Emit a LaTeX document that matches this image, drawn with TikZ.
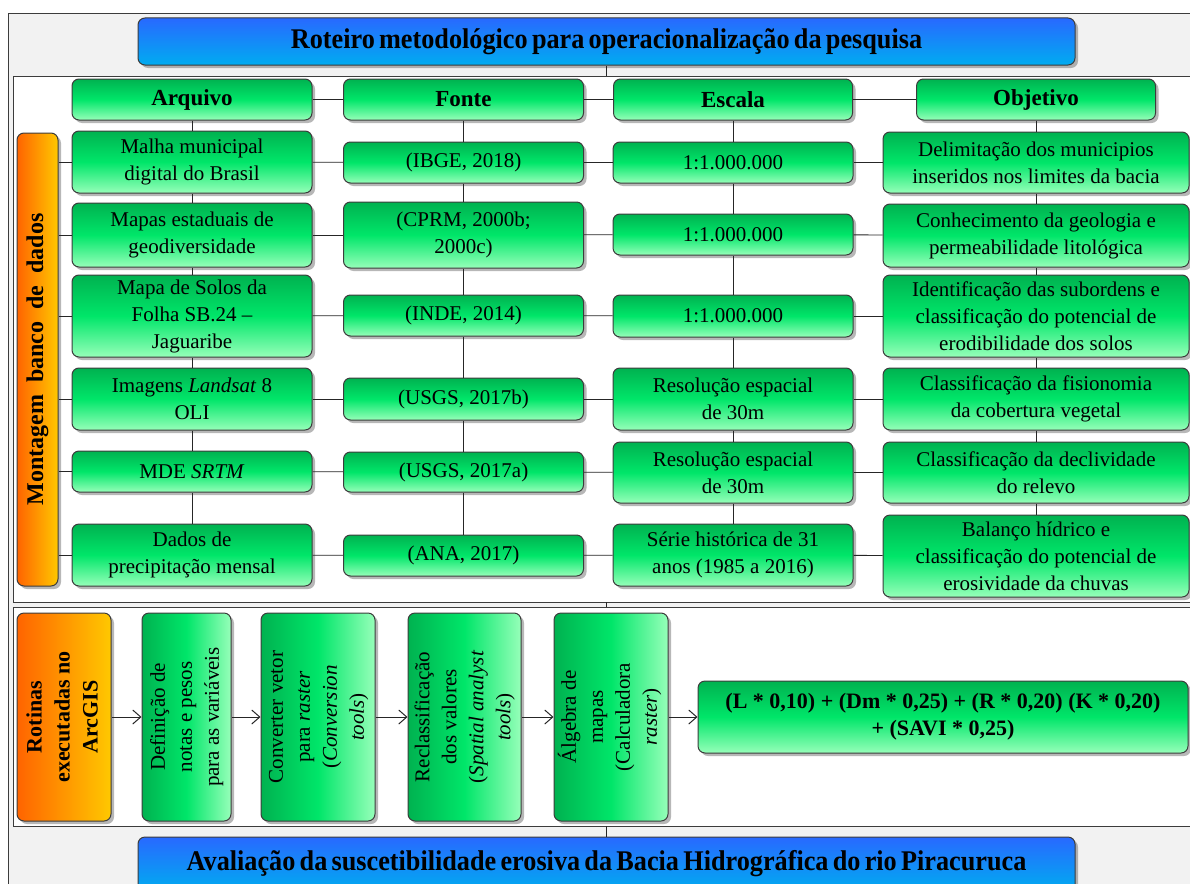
\documentclass[tikz,border=0pt]{standalone}
\usepackage{fontspec}
\setmainfont{Liberation Serif}
\newfontfamily\condfont{Liberation Serif}[FakeStretch=0.92]
\usetikzlibrary{shadows,arrows.meta}
\definecolor{gtop}{RGB}{0,178,80}
\definecolor{gmid}{RGB}{0,230,105}
\definecolor{gbot}{RGB}{150,255,185}
\definecolor{btop}{RGB}{40,105,255}
\definecolor{bbot}{RGB}{0,172,240}
\definecolor{otop}{RGB}{255,100,0}
\definecolor{obot}{RGB}{255,200,0}
\definecolor{framebg}{RGB}{242,242,242}
\definecolor{edge}{RGB}{60,60,60}
\newcommand\rtxt[1]{\rotatebox{90}{\begin{tabular}{@{}c@{}}#1\end{tabular}}}
\newcommand\ttlfont{\condfont\fontsize{28.5}{32}\selectfont\bfseries\spaceskip=0.15em plus 0.05em\relax}
\begin{document}
\begin{tikzpicture}[x=1pt,y=-1pt,
  box/.style={draw=edge, line width=1pt, rounded corners=7pt, inner sep=0pt, align=center,
     drop shadow={shadow xshift=3pt,shadow yshift=-3pt,opacity=0.35,fill=black!80},
     font=\fontsize{21}{27}\selectfont},
  gbox/.style={box, top color=gtop, bottom color=gbot, middle color=gmid},
  hbox/.style={gbox, font=\fontsize{23}{27}\selectfont\bfseries},
  vgbox/.style={box, left color=gtop, right color=gbot, middle color=gmid},
  obox/.style={box, left color=otop, right color=obot, font=\fontsize{23}{28}\selectfont\bfseries},
  bbox/.style={box, top color=btop, bottom color=bbot, font=\ttlfont},
  sz/.style 2 args={minimum width=#1pt, minimum height=#2pt},
  link/.style={draw=black!85, line width=0.9pt},
  arr/.style={link, -{Straight Barb[length=8pt,width=14pt,line width=1pt]}}
]
\useasboundingbox (0,0) rectangle (1190,883);
\clip (0,0) rectangle (1190,883);
\fill[white] (0,0) rectangle (1190,883);
\draw[fill=framebg, draw=edge, line width=1pt] (8,14) rectangle (1210,900);
\draw[fill=white, draw=edge, line width=1pt] (13,76) rectangle (1210,602);
\draw[fill=white, draw=edge, line width=1pt] (13,607) rectangle (1210,826);

% titles
\node[bbox, sz={937}{47}] (ttl) at (606.5,41.5) {Roteiro metodológico para operacionalização da pesquisa};
\node[bbox, sz={937}{54}] (btl) at (606.5,864) {Avaliação da suscetibilidade erosiva da Bacia Hidrográfica do rio Piracuruca};
\coordinate (c1) at (606.5,76);
\coordinate (c2) at (606.5,602);
\coordinate (c3) at (606.5,607);
\coordinate (c4) at (606.5,826);

% headers
\node[hbox, sz={240}{41}] (hA) at (192,99.5) {Arquivo};
\node[hbox, sz={240}{41}] (hF) at (463.5,99.5) {Fonte};
\node[hbox, sz={239}{41}] (hE) at (733,99.5) {Escala};
\node[hbox, sz={239}{41}] (hO) at (1036,99.5) {Objetivo};

% side label
\node[obox, sz={41}{453}, font=\fontsize{24}{28}\selectfont\bfseries] (mb) at (37.5,359.5)
  {\rotatebox{90}{Montagem\hspace{0.25em} banco\hspace{0.25em} de\hspace{0.25em} dados}};

% Arquivo
\node[gbox, sz={240}{62}] (a1) at (192,162) {Malha municipal\\digital do Brasil};
\node[gbox, sz={240}{64}] (a2) at (192,235) {Mapas estaduais de\\geodiversidade};
\node[gbox, sz={240}{82}] (a3) at (192,316) {Mapa de Solos da\\Folha SB.24 –\\Jaguaribe};
\node[gbox, sz={240}{62}] (a4) at (192,399) {Imagens \textit{Landsat} 8\\OLI};
\node[gbox, sz={240}{41}] (a5) at (192,471.5) {MDE \textit{SRTM}};
\node[gbox, sz={240}{62}] (a6) at (192,555) {Dados de\\precipitação mensal};

% Fonte
\node[gbox, sz={240}{41}] (f1) at (463.5,162.5) {(IBGE, 2018)};
\node[gbox, sz={240}{66}] (f2) at (463.5,235) {(CPRM, 2000b;\\2000c)};
\node[gbox, sz={240}{41}] (f3) at (463.5,315.5) {(INDE, 2014)};
\node[gbox, sz={240}{42}] (f4) at (463.5,399) {(USGS, 2017b)};
\node[gbox, sz={240}{40}] (f5) at (463.5,472) {(USGS, 2017a)};
\node[gbox, sz={240}{41}] (f6) at (463.5,555.5) {(ANA, 2017)};

% Escala
\node[gbox, sz={240}{41}] (e1) at (733,162.5) {1:1.000.000};
\node[gbox, sz={240}{41}] (e2) at (733,234.5) {1:1.000.000};
\node[gbox, sz={240}{42}] (e3) at (733,316) {1:1.000.000};
\node[gbox, sz={240}{62}] (e4) at (733,399) {Resolução espacial\\de 30m};
\node[gbox, sz={240}{61}] (e5) at (733,472.5) {Resolução espacial\\de 30m};
\node[gbox, sz={240}{62}] (e6) at (733,555) {Série histórica de 31\\anos (1985 a 2016)};

% Objetivo
\node[gbox, sz={306}{61}] (o1) at (1036,162.5) {Delimitação dos municipios\\inseridos nos limites da bacia};
\node[gbox, sz={306}{63}] (o2) at (1036,235.5) {Conhecimento da geologia e\\permeabilidade litológica};
\node[gbox, sz={306}{82}] (o3) at (1036,316) {Identificação das subordens e\\classificação do potencial de\\erodibilidade dos solos};
\node[gbox, sz={306}{62}] (o4) at (1036,399) {Classificação da fisionomia\\da cobertura vegetal};
\node[gbox, sz={306}{61}] (o5) at (1036,472.5) {Classificação da declividade\\do relevo};
\node[gbox, sz={306}{82}] (o6) at (1036,556) {Balanço hídrico e\\classificação do potencial de\\erosividade da chuvas};

% routines panel
\node[obox, sz={94}{208}, font=\fontsize{22}{28}\selectfont\bfseries] (rt) at (64,717) {\rtxt{Rotinas\\executadas no\\ArcGIS}};
\node[vgbox, sz={89}{208}] (p1) at (186.5,717) {\rtxt{Definição de\\notas e pesos\\para as variáveis}};
\node[vgbox, sz={114}{208}] (p2) at (318,717) {\rtxt{Converter vetor\\para \textit{raster}\\(\textit{Conversion}\\\textit{tools})}};
\node[vgbox, sz={113}{208}] (p3) at (464.5,717) {\rtxt{Reclassificação\\dos valores\\(\textit{Spatial analyst}\\\textit{tools})}};
\node[vgbox, sz={114}{208}] (p4) at (611,717) {\rtxt{Álgebra de\\mapas\\(Calculadora\\\textit{raster})}};
\node[gbox, sz={490}{72}, font=\fontsize{22}{27}\selectfont\bfseries] (fm) at (943,717) {(L * 0,10) + (Dm * 0,25) + (R * 0,20) (K * 0,20)\\+ (SAVI * 0,25)};

% connectors
\draw[link] (ttl.south) -- (c1);
\draw[link] (c2) -- (c3);
\draw[link] (c4) -- (btl.north);
\draw[link] (hA) -- (hF);
\draw[link] (hF) -- (hE);
\draw[link] (hE) -- (hO);
\draw[link] (hA) -- (a1);
\draw[link] (hF) -- (f1);
\draw[link] (hE) -- (e1);
\draw[link] (hO) -- (o1);
\foreach \c in {a,f,e,o}{
  \draw[link] (\c1) -- (\c2);
  \draw[link] (\c2) -- (\c3);
  \draw[link] (\c3) -- (\c4);
  \draw[link] (\c4) -- (\c5);
  \draw[link] (\c5) -- (\c6);
}
\foreach \r in {1,...,6}{
  \draw[link] (a\r.west -| mb.east) -- (a\r.west);
  \draw[link] (a\r) -- (f\r);
  \draw[link] (f\r) -- (e\r);
  \draw[link] (e\r) -- (o\r);
}
\draw[arr] (rt) -- (p1);
\draw[arr] (p1) -- (p2);
\draw[arr] (p2) -- (p3);
\draw[arr] (p3) -- (p4);
\draw[arr] (p4) -- (fm);
\end{tikzpicture}
\end{document}
